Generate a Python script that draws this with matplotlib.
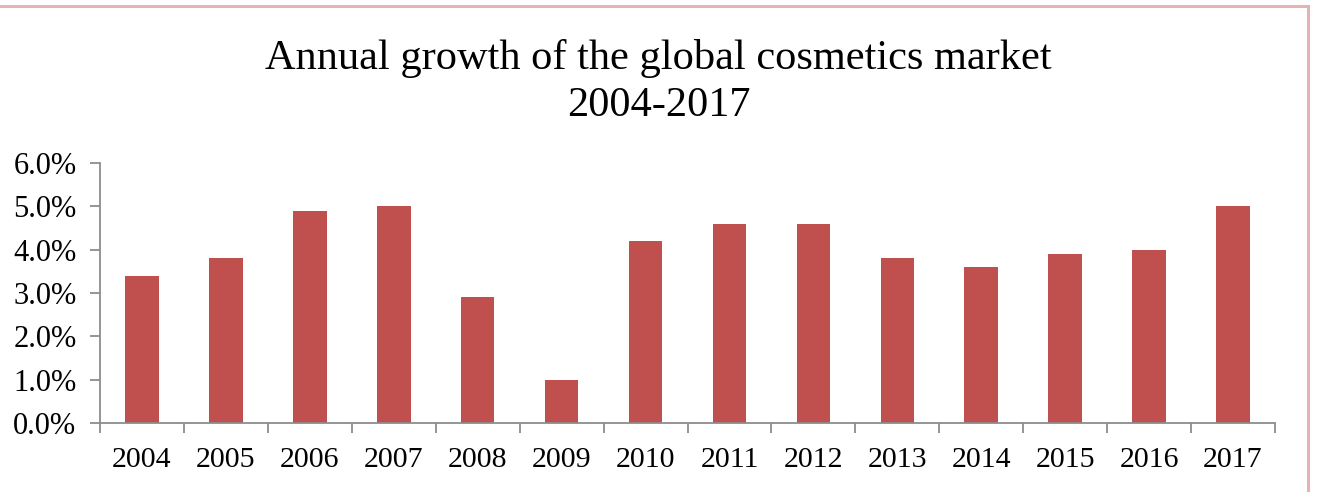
import numpy as np
import matplotlib.pyplot as plt
from matplotlib.patches import Rectangle
from matplotlib.ticker import PercentFormatter

years = ["2004", "2005", "2006", "2007", "2008", "2009", "2010",
         "2011", "2012", "2013", "2014", "2015", "2016", "2017"]
growth = [3.4, 3.8, 4.9, 5.0, 2.9, 1.0, 4.2, 4.6, 4.6, 3.8, 3.6, 3.9, 4.0, 5.0]
y_ticks = [0, 1, 2, 3, 4, 5, 6]

plt.rcParams["font.family"] = ["Liberation Serif", "DejaVu Serif"]

W, H = 1317, 492
fig = plt.figure(figsize=(W / 100, H / 100), dpi=100)
ax = fig.add_axes([100 / W, 1 - 423 / H, (1275 - 100) / W, (423 - 163) / H])

# chart border (only top and right edges fall inside the crop)
fig.patches.append(Rectangle((-10 / W, -10 / H), 1318 / W, (H + 4) / H,
                             transform=fig.transFigure, fill=False,
                             edgecolor="#e3b4b4", linewidth=2.2))

x = np.arange(len(years))
ax.bar(x, growth, width=0.4, color="#c0504d", zorder=2)

ax.set_xlim(-0.5, len(years) - 0.5)
ax.set_ylim(0, 6)
ax.set_yticks(y_ticks)
ax.yaxis.set_major_formatter(PercentFormatter(decimals=1))
ax.set_xticks(x)
ax.set_xticklabels(years)
ax.set_xticks(np.arange(len(years) + 1) - 0.5, minor=True)

for side in ("top", "right"):
    ax.spines[side].set_visible(False)
for side in ("left", "bottom"):
    ax.spines[side].set_color("#8c8c8c")
    ax.spines[side].set_linewidth(1.3)

ax.tick_params(axis="y", length=7, width=1.3, color="#8c8c8c",
               labelsize=22, pad=10)
ax.tick_params(axis="x", which="major", length=0, labelsize=21.5, pad=17)
ax.tick_params(axis="x", which="minor", length=7, width=1.3, color="#8c8c8c")

fig.text(0.5, 1 - 82 / H, "Annual growth of the global cosmetics market\n2004-2017",
         ha="center", va="center", fontsize=30.5, linespacing=1.3)

fig.savefig("out.png", dpi=100)
